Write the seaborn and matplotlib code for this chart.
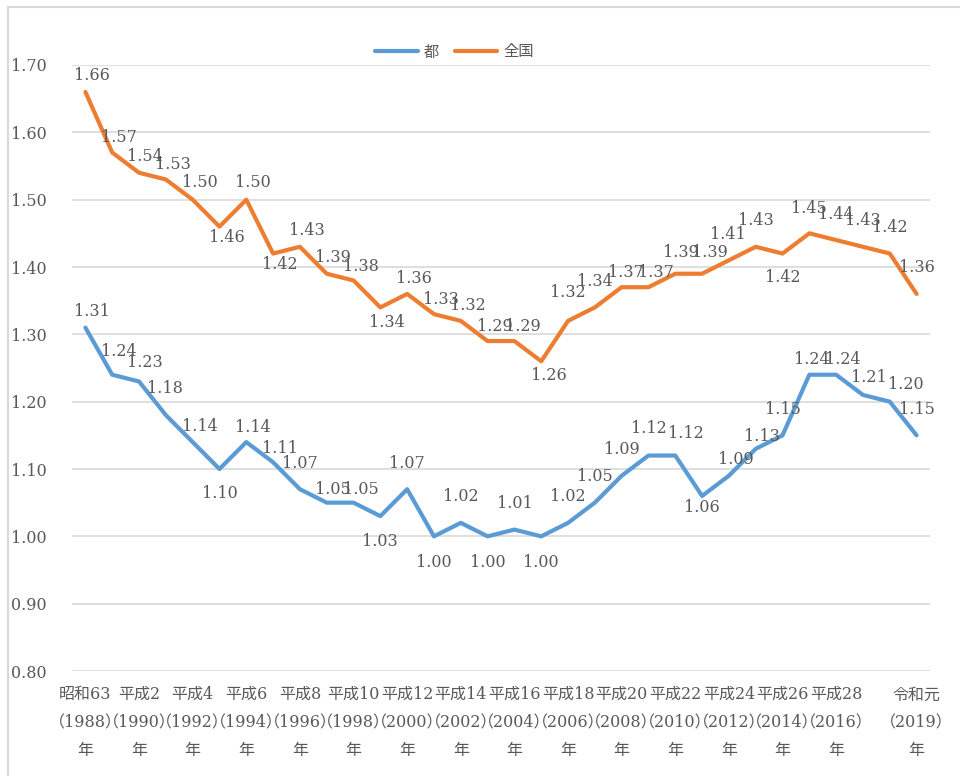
import matplotlib
matplotlib.use("Agg")
import matplotlib.pyplot as plt
from matplotlib.patches import Rectangle
from matplotlib.lines import Line2D
import seaborn as sns
import pandas as pd

# 合計特殊出生率の推移（都・全国）
years = list(range(1988, 2020))
era_labels = {
    1988: "昭和63", 1990: "平成2", 1992: "平成4", 1994: "平成6", 1996: "平成8",
    1998: "平成10", 2000: "平成12", 2002: "平成14", 2004: "平成16", 2006: "平成18",
    2008: "平成20", 2010: "平成22", 2012: "平成24", 2014: "平成26", 2016: "平成28",
    2019: "令和元",
}
tokyo = [1.31, 1.24, 1.23, 1.18, 1.14, 1.10, 1.14, 1.11, 1.07, 1.05, 1.05, 1.03,
         1.07, 1.00, 1.02, 1.00, 1.01, 1.00, 1.02, 1.05, 1.09, 1.12, 1.12, 1.06,
         1.09, 1.13, 1.15, 1.24, 1.24, 1.21, 1.20, 1.15]
national = [1.66, 1.57, 1.54, 1.53, 1.50, 1.46, 1.50, 1.42, 1.43, 1.39, 1.38, 1.34,
            1.36, 1.33, 1.32, 1.29, 1.29, 1.26, 1.32, 1.34, 1.37, 1.37, 1.39, 1.39,
            1.41, 1.43, 1.42, 1.45, 1.44, 1.43, 1.42, 1.36]
series_names = ["都", "全国"]
colors = {"都": "#5B9BD5", "全国": "#ED7D31"}

# data-label offsets in pixels (dx, dy; positive dy = upward)
tokyo_offsets = [(7, 16), (7, 23), (6, 19), (-1, 27), (7, 16), (0, -24), (7, 15), (7, 14),
                 (0, 26), (6, 13), (7, 13), (0, -25), (0, 26), (0, -26), (0, 26), (0, -26),
                 (0, 26), (0, -26), (0, 26), (0, 26), (0, 26), (0, 27), (11, 22), (0, -12),
                 (7, 16), (6, 12), (0, 26), (2, 15), (7, 15), (6, 17), (16, 17), (0, 26)]
national_offsets = [(7, 16), (7, 15), (6, 16), (7, 15), (7, 17), (7, -11), (7, 17), (7, -11),
                    (7, 16), (6, 16), (7, 14), (7, -15), (7, 15), (7, 15), (7, 15), (7, 15),
                    (8, 15), (8, -14), (0, 28), (0, 26), (4, 15), (7, 15), (6, 21), (8, 21),
                    (-1, 26), (0, 26), (0, -24), (0, 25), (0, 26), (0, 26), (0, 26), (0, 26)]

idx = list(range(len(years)))
df = pd.DataFrame({
    "idx": idx * 2,
    "value": tokyo + national,
    "series": [series_names[0]] * len(years) + [series_names[1]] * len(years),
})

sns.set_theme(style="white")
num_font = ["DejaVu Serif", "Noto Sans CJK JP"]
plt.rcParams["font.family"] = num_font
text_gray = "#595959"
grid_gray = "#D9D9D9"

fig = plt.figure(figsize=(9.6, 7.76), dpi=100)
ax = fig.add_axes([72 / 960, 1 - 671 / 776, 858 / 960, 606 / 776])

sns.lineplot(data=df, x="idx", y="value", hue="series", hue_order=series_names,
             palette=colors, linewidth=3, ax=ax, legend=False, zorder=3)

# value labels
for vals, offs in ((tokyo, tokyo_offsets), (national, national_offsets)):
    for i, (v, (dx, dy)) in enumerate(zip(vals, offs)):
        ax.annotate(f"{v:.2f}", (i, v), xytext=(dx, dy), textcoords="offset pixels",
                    ha="center", va="center", fontsize=11.5, color=text_gray,
                    family=num_font, zorder=4)

ax.set_xlim(-0.5, len(years) - 0.5)
ax.set_ylim(0.80, 1.70)
yt = [0.80 + 0.10 * k for k in range(10)]
ax.set_yticks(yt)
ax.set_yticklabels([f"{t:.2f}" for t in yt], fontsize=11.5, color=text_gray, family=num_font)
tick_years = list(era_labels.keys())
ax.set_xticks([years.index(y) for y in tick_years])
ax.set_xticklabels([f"{era_labels[y]}\n（{y}）\n年" for y in tick_years],
                   fontsize=11.5, color=text_gray, family=num_font, linespacing=1.85)
ax.tick_params(axis="x", length=0, pad=11)
ax.tick_params(axis="y", length=0, pad=18)
for lab in ax.get_yticklabels():
    lab.set_horizontalalignment("right")

ax.grid(axis="y", color=grid_gray, linewidth=1.2)
ax.grid(axis="x", visible=False)
ax.set_axisbelow(True)
for s in ax.spines.values():
    s.set_visible(False)
ax.set_xlabel("")
ax.set_ylabel("")

handles = [Line2D([], [], color=colors[n], linewidth=3) for n in series_names]
ax.legend(handles, series_names, loc="center", bbox_to_anchor=(0.446, 1.0215), ncol=2,
          frameon=False, handlelength=2.8, handletextpad=0.4,
          columnspacing=1.0, labelcolor=text_gray,
          prop={"family": ["Noto Sans CJK JP", "DejaVu Sans"], "size": 11})

# chart frame
fig.patches.append(Rectangle((8 / 960, -0.05), 1.2, 1 - 7 / 776 + 0.05,
                             transform=fig.transFigure, fill=False,
                             edgecolor=grid_gray, linewidth=1.5))

fig.savefig("out.png", dpi=100)
